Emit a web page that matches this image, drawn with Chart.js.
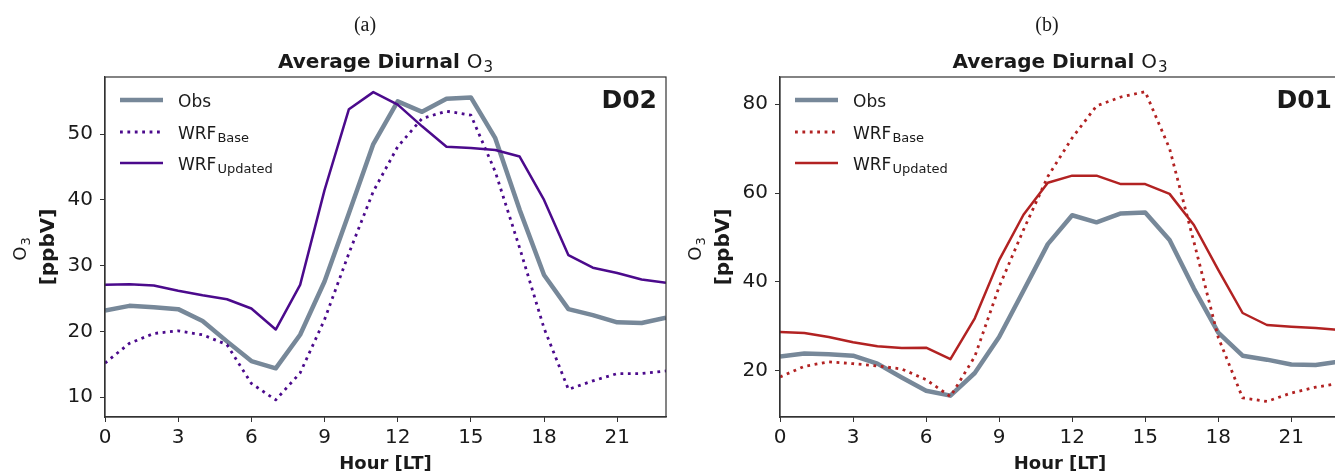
<!DOCTYPE html>
<html>
<head>
<meta charset="utf-8">
<script src="https://cdn.jsdelivr.net/npm/chart.js@4.4.1/dist/chart.umd.min.js"></script>
<style>
  html, body { margin: 0; padding: 0; background: #fff; overflow: hidden; }
  #wrap { position: relative; width: 1335px; height: 475px; overflow: hidden; }
  canvas { position: absolute; top: 0; }
</style>
</head>
<body>
<div id="wrap">
  <canvas id="chartA" width="670" height="475" style="left:0px"></canvas>
  <canvas id="chartB" width="680" height="475" style="left:670px"></canvas>
</div>
<script>
// hours of the day
const hours = [0,1,2,3,4,5,6,7,8,9,10,11,12,13,14,15,16,17,18,19,20,21,22,23];

// observed diurnal O3 (same in both panels)
const obsO3 = [23.2,23.9,23.7,23.4,21.6,18.5,15.5,14.4,19.5,27.6,38.0,48.5,55.0,53.4,55.4,55.6,49.4,38.5,28.6,23.4,22.5,21.4,21.3,22.1];

// D02 panel
const d02Base    = [15.2,18.2,19.7,20.1,19.5,18.0,12.1,9.6,13.7,21.8,31.9,41.3,48.1,52.4,53.5,52.9,44.3,32.7,20.5,11.2,12.5,13.6,13.6,14.0];
const d02Updated = [27.1,27.2,27.0,26.2,25.5,24.9,23.5,20.3,27.1,41.5,53.8,56.4,54.5,51.2,48.1,47.9,47.6,46.6,40.0,31.6,29.7,28.9,27.9,27.4];

// D01 panel
const d01Base    = [18.6,21.0,22.0,21.6,21.1,20.4,18.0,14.2,23.2,38.9,51.7,63.7,72.4,79.6,81.6,82.8,70.0,49.0,27.5,13.9,13.1,15.0,16.3,17.2];
const d01Updated = [28.7,28.5,27.6,26.4,25.5,25.1,25.2,22.6,31.8,44.9,55.1,62.3,63.9,63.9,62.0,62.0,59.8,52.8,42.7,33.0,30.3,29.9,29.6,29.2];

// ticks
const xTicks = [0,3,6,9,12,15,18,21];
const yTicksD02 = [10,20,30,40,50];
const yTicksD01 = [20,40,60,80];

const legendMain = ['Obs','WRF','WRF'];
const legendSub  = ['','Base','Updated'];

const FONT = "'DejaVu Sans', sans-serif";
const INK = '#1a1a1a';

const pts = arr => hours.map((h,i) => ({x:h, y:arr[i]}));

// text with a subscript; returns width
function subText(ctx, x, y, main, sub, mainFont, subFont, drop, draw) {
  ctx.font = mainFont;
  const w1 = ctx.measureText(main).width;
  ctx.font = subFont;
  const w2 = sub ? ctx.measureText(sub).width + 1 : 0;
  if (draw) {
    ctx.font = mainFont;
    ctx.fillText(main, x, y);
    if (sub) { ctx.font = subFont; ctx.fillText(sub, x + w1 + 1, y + drop); }
  }
  return w1 + w2;
}

const panelText = {
  id: 'panelText',
  afterDraw(chart, args, o) {
    const ctx = chart.ctx;
    const a = chart.chartArea;
    ctx.save();
    ctx.fillStyle = INK;
    ctx.textAlign = 'left';
    ctx.textBaseline = 'alphabetic';

    // frame
    ctx.strokeStyle = '#333';
    ctx.lineWidth = 1.2;
    ctx.strokeRect(a.left, a.top, a.right - a.left, a.bottom - a.top);

    // panel letter
    ctx.font = "20px 'Liberation Serif', serif";
    ctx.textAlign = 'center';
    ctx.fillText(o.letter, o.letterX, 31);

    // title
    ctx.textAlign = 'left';
    const cx = (a.left + a.right) / 2;
    ctx.font = 'bold 20px ' + FONT;
    const wb = ctx.measureText('Average Diurnal ').width;
    const wo = subText(ctx, 0, 0, 'O', '3', '20px ' + FONT, '15px ' + FONT, 4, false);
    let tx = cx - (wb + wo) / 2;
    ctx.font = 'bold 20px ' + FONT;
    ctx.fillText('Average Diurnal ', tx, 68);
    subText(ctx, tx + wb, 68, 'O', '3', '20px ' + FONT, '15px ' + FONT, 4, true);

    // domain tag
    ctx.font = 'bold 25px ' + FONT;
    ctx.textAlign = 'right';
    ctx.fillText(o.tag, a.left + 552, 108);
    ctx.textAlign = 'left';

    // legend
    const rows = [100, 132, 163];
    chart.data.datasets.forEach((ds, i) => {
      const y = rows[i];
      ctx.save();
      ctx.strokeStyle = ds.borderColor;
      ctx.lineWidth = ds.borderWidth;
      ctx.setLineDash(ds.borderDash || []);
      ctx.beginPath();
      ctx.moveTo(a.left + 15, y);
      ctx.lineTo(a.left + 58, y);
      ctx.stroke();
      ctx.restore();
      ctx.fillStyle = INK;
      subText(ctx, a.left + 73, y + 6.5, legendMain[i], legendSub[i], '17px ' + FONT, '13px ' + FONT, 3.5, true);
    });

    // x title
    ctx.font = 'bold 18px ' + FONT;
    ctx.textAlign = 'center';
    ctx.fillText('Hour [LT]', cx, 469);

    // y title
    const cy = (a.top + a.bottom) / 2;
    ctx.save();
    ctx.translate(a.left - 86, cy + 2);
    ctx.rotate(-Math.PI / 2);
    ctx.textAlign = 'left';
    const wO = subText(ctx, 0, 0, 'O', '3', '18px ' + FONT, '13px ' + FONT, 4, false);
    subText(ctx, -wO / 2, 6.5, 'O', '3', '18px ' + FONT, '13px ' + FONT, 4, true);
    ctx.restore();
    ctx.save();
    ctx.translate(a.left - 56, cy);
    ctx.rotate(-Math.PI / 2);
    ctx.textAlign = 'center';
    ctx.textBaseline = 'middle';
    ctx.font = 'bold 20px ' + FONT;
    ctx.fillText('[ppbV]', 0, 0);
    ctx.restore();

    ctx.restore();
  }
};

function makePanel(id, base, updated, color, yTicks, yMin, yMax, yWidth, padRight, letter, letterX, tag) {
  new Chart(document.getElementById(id), {
    type: 'line',
    data: {
      datasets: [
        { label: 'Obs', data: pts(obsO3), borderColor: '#778899', borderWidth: 4.5, order: 3 },
        { label: 'WRF Base', data: pts(base), borderColor: color, borderWidth: 2.8, borderDash: [2.8, 4.6], order: 2 },
        { label: 'WRF Updated', data: pts(updated), borderColor: color, borderWidth: 2.5, order: 1 }
      ]
    },
    options: {
      responsive: false,
      animation: false,
      layout: { padding: { top: 77, right: padRight, left: 0, bottom: 0 } },
      elements: { point: { radius: 0 }, line: { tension: 0, borderJoinStyle: 'round' } },
      plugins: {
        legend: { display: false },
        tooltip: { enabled: false },
        panelText: { letter: letter, letterX: letterX, tag: tag }
      },
      scales: {
        x: {
          type: 'linear', min: 0, max: 23,
          afterBuildTicks: s => { s.ticks = xTicks.map(v => ({value: v})); },
          afterFit: s => { s.height = 58; },
          grid: { drawOnChartArea: false, drawTicks: true, tickLength: 5, color: '#333' },
          border: { display: true, color: '#333', width: 1.2 },
          ticks: { color: INK, font: { family: FONT, size: 20 }, padding: 4, maxRotation: 0 }
        },
        y: {
          type: 'linear', min: yMin, max: yMax,
          afterBuildTicks: s => { s.ticks = yTicks.map(v => ({value: v})); },
          afterFit: s => { s.width = yWidth; },
          grid: { drawOnChartArea: false, drawTicks: true, tickLength: 5, color: '#333' },
          border: { display: true, color: '#333', width: 1.2 },
          ticks: { color: INK, font: { family: FONT, size: 20 }, padding: 7 }
        }
      }
    },
    plugins: [panelText]
  });
}

makePanel('chartA', d02Base, d02Updated, '#4b0a8c', yTicksD02, 7.0, 58.7, 105, 4, '(a)', 365, 'D02');
makePanel('chartB', d01Base, d01Updated, '#b22222', yTicksD01, 9.6, 86.1, 110, 10, '(b)', 377, 'D01');
</script>
</body>
</html>
